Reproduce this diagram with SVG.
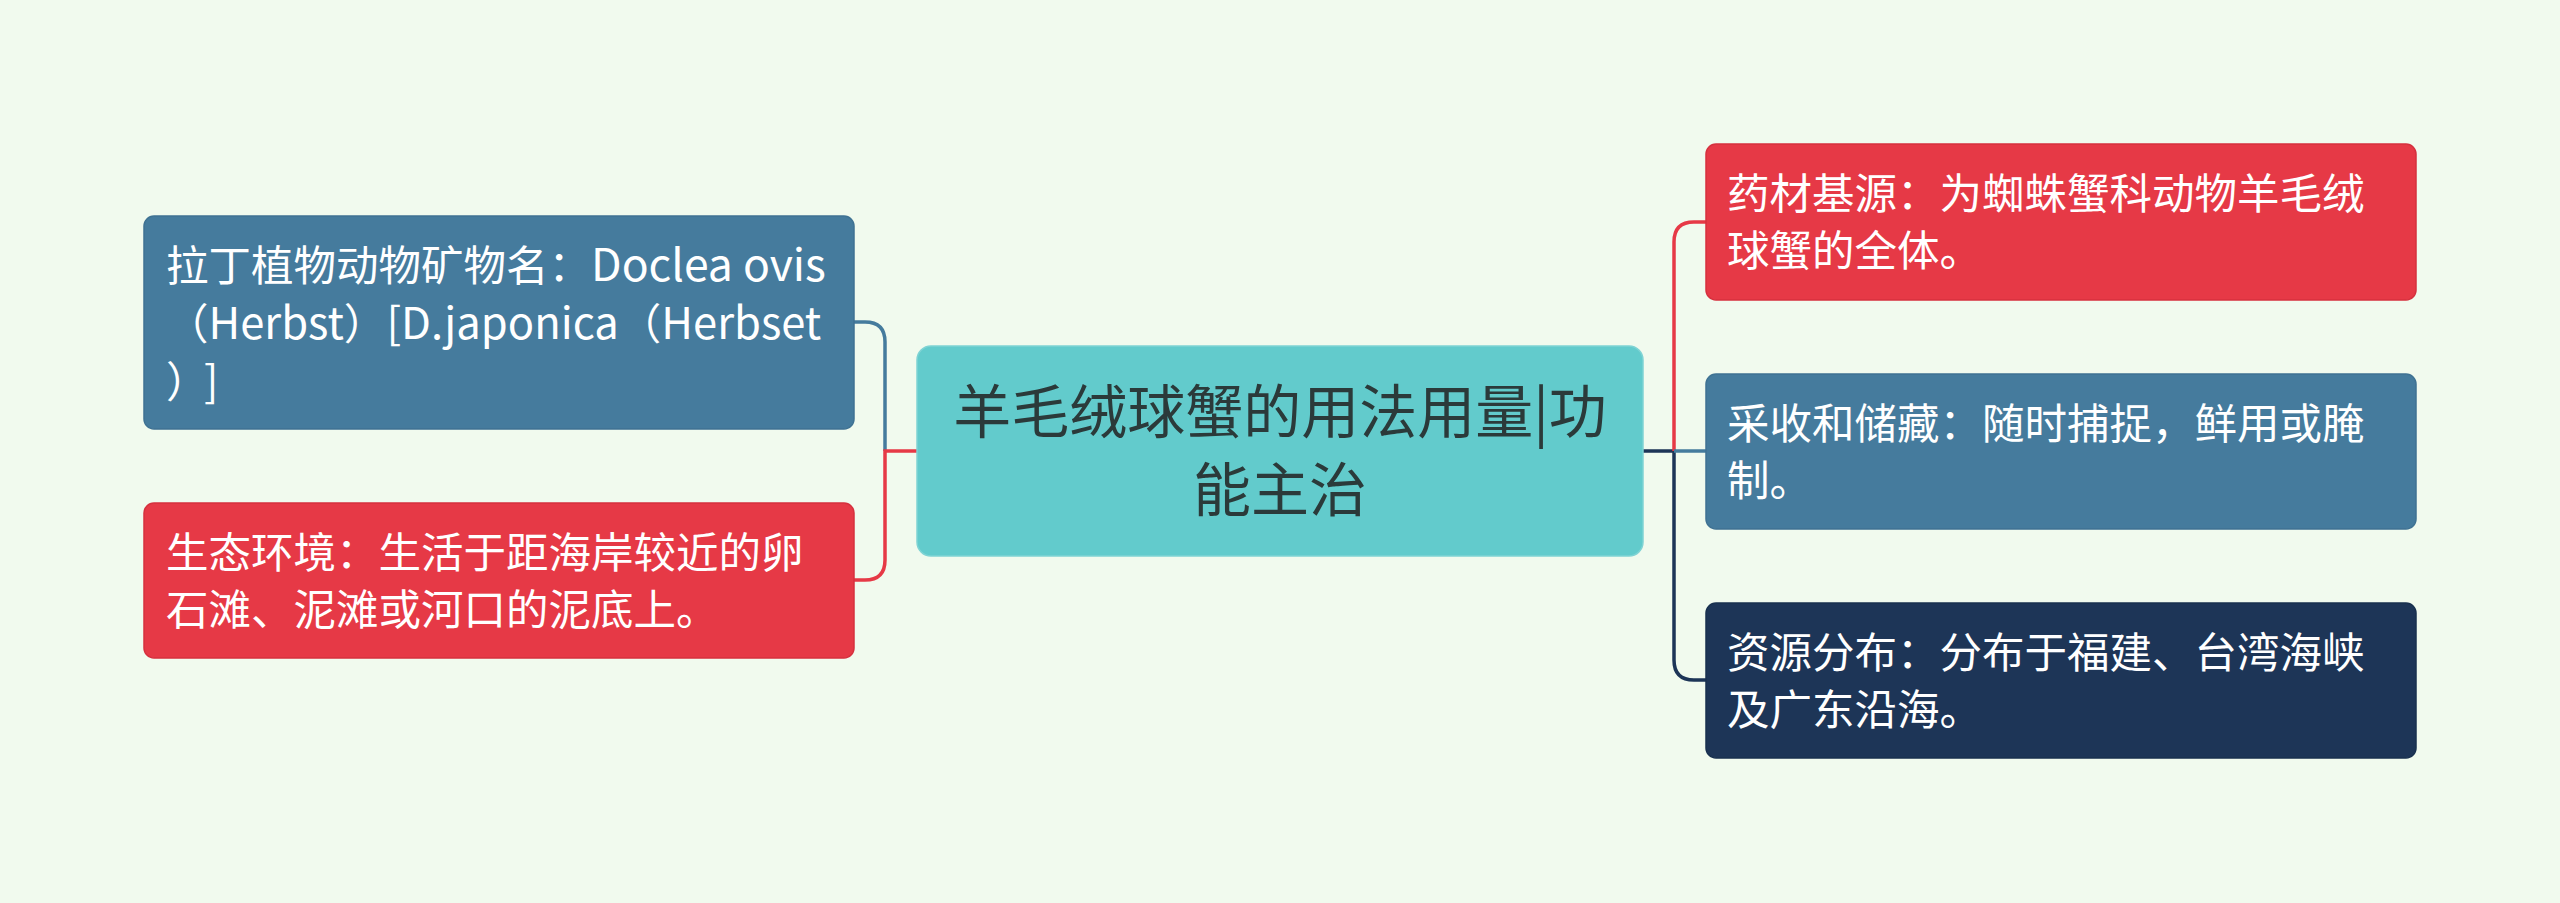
<svg xmlns="http://www.w3.org/2000/svg" width="2560" height="903" viewBox="0 0 2560 903">
<style>
.bg{fill:#f1faee}
.node rect{stroke-width:1.5}
.red rect{fill:#e63946;stroke:#d6303e}
.blue rect{fill:#457b9d;stroke:#3f7293}
.navy rect{fill:#1d3557;stroke:#18304f}
.center rect{fill:#62cbcc;stroke:#7fd3d4}
.t{font-family:"Noto Sans CJK SC","Noto Sans",sans-serif;font-size:42.5px;fill:#ffffff}
.lat{font-size:44.5px}
.lat2{font-size:43.5px}
.ct{font-family:"Noto Sans CJK SC","Noto Sans",sans-serif;font-size:58px;fill:#2b3a3a;text-anchor:middle}
.c{fill:none;stroke-width:3.5;stroke-linecap:butt}
</style>
<rect class="bg" x="0" y="0" width="2560" height="903"/>
<g id="connectors">
<path class="c" stroke="#457b9d" d="M854 322 H865 Q885 322 885 342 V451"/>
<path class="c" stroke="#e63946" d="M854 580 H865 Q885 580 885 560 V451 H918"/>
<path class="c" stroke="#1d3557" d="M1642 451 H1674 V660 Q1674 680 1694 680 H1706"/>
<path class="c" stroke="#e63946" d="M1674 451 V242 Q1674 222 1694 222 H1706"/>
<path class="c" stroke="#457b9d" d="M1674 451 H1706"/>
</g>
<g id="node-center" class="node center">
<rect x="917" y="346" width="726" height="210" rx="14"/>
<text class="ct"><tspan x="1280" y="433">羊毛绒球蟹的用法用量|功</tspan><tspan x="1280" y="511">能主治</tspan></text>
</g>
<g id="node-latin" class="node blue">
<rect x="144" y="216" width="710" height="213" rx="10"/>
<text class="t"><tspan x="166" y="281">拉丁植物动物矿物名：</tspan><tspan class="lat">Doclea ovis</tspan><tspan x="166" y="339">（</tspan><tspan class="lat2">Herbst</tspan><tspan>）</tspan><tspan class="lat2">[D.japonica</tspan><tspan>（</tspan><tspan class="lat2">Herbset</tspan><tspan x="166" y="397">）</tspan><tspan x="204" y="397">]</tspan></text>
</g>
<g id="node-habitat" class="node red">
<rect x="144" y="503" width="710" height="155" rx="10"/>
<text class="t"><tspan x="166" y="568">生态环境：生活于距海岸较近的卵</tspan><tspan x="166" y="625">石滩、泥滩或河口的泥底上。</tspan></text>
</g>
<g id="node-source" class="node red">
<rect x="1706" y="144" width="710" height="156" rx="10"/>
<text class="t"><tspan x="1727" y="209">药材基源：为蜘蛛蟹科动物羊毛绒</tspan><tspan x="1727" y="266">球蟹的全体。</tspan></text>
</g>
<g id="node-harvest" class="node blue">
<rect x="1706" y="374" width="710" height="155" rx="10"/>
<text class="t"><tspan x="1727" y="439">采收和储藏：随时捕捉，鲜用或腌</tspan><tspan x="1727" y="496">制。</tspan></text>
</g>
<g id="node-distribution" class="node navy">
<rect x="1706" y="603" width="710" height="155" rx="10"/>
<text class="t"><tspan x="1727" y="668">资源分布：分布于福建、台湾海峡</tspan><tspan x="1727" y="725">及广东沿海。</tspan></text>
</g>
</svg>
